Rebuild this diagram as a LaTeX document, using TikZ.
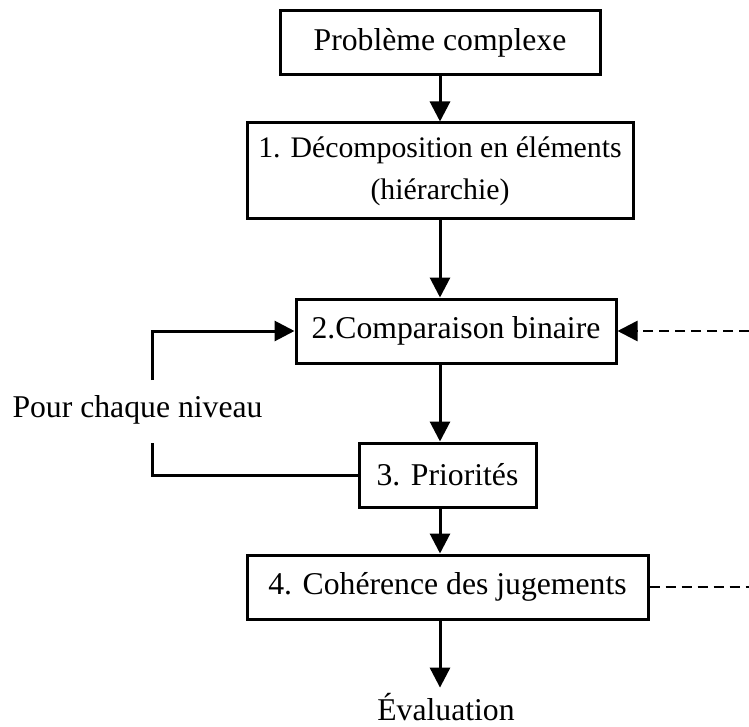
\documentclass[tikz,border=0pt]{standalone}
\usepackage{fontspec}
\setmainfont{Liberation Serif}
\usetikzlibrary{arrows.meta,positioning,calc}

\begin{document}
\begin{tikzpicture}[x=1pt, y=-1pt,
  etape/.style={draw, line width=3pt, align=center, inner sep=0pt,
    font=\fontsize{31.7pt}{36pt}\selectfont},
  fleche/.style={-{Triangle[length=20pt,width=20pt]}, line width=3pt},
  pointille/.style={line width=2.6pt, dash pattern=on 10pt off 6pt}]
  \useasboundingbox (0,0) rectangle (749,727);

  % Steps of the method
  \node[etape, minimum width=320pt, minimum height=64pt] (pb) at (440,43) {Problème complexe};
  \node[etape, minimum width=386pt, minimum height=96pt, font=\fontsize{29.8pt}{42pt}\selectfont] (deco) at (440,171) {1. Décomposition en éléments\\(hiérarchie)};
  \node[etape, minimum width=320pt, minimum height=64pt] (comp) at (456,331) {2.Comparaison binaire};
  \node[etape, minimum width=177pt, minimum height=64pt] (prio) at (447.5,475) {3. Priorités};
  \node[etape, minimum width=401pt, minimum height=64pt] (coh) at (447.5,587) {4. Cohérence des jugements};
  \node[font=\fontsize{31.7pt}{36pt}\selectfont, anchor=base, inner sep=5pt] (eval) at (446,720) {Évaluation};

  % Main flow
  \draw[fleche] (pb.south) -- (deco.north);
  \draw[fleche] (deco.south) -- (deco.south |- comp.north);
  \draw[fleche] (deco.south |- comp.south) -- (deco.south |- prio.north);
  \draw[fleche] (deco.south |- prio.south) -- (deco.south |- coh.north);
  \draw[fleche] (deco.south |- coh.south) -- (deco.south |- eval.north);

  %--- Loop for each level ---
  \node[font=\fontsize{31.7pt}{36pt}\selectfont, inner sep=0pt] (niveau) at (137.5,410) {Pour chaque niveau};
  \coordinate (bouclebas) at (152,443);
  \coordinate (bouclehaut) at (152,380);
  \draw[line width=3pt] (prio.west) -| (bouclebas);
  \draw[fleche] (bouclehaut) |- (comp.west);

  %--- Dashed links on the right ---
  \coordinate (retourA) at (749,331);
  \coordinate (retourB) at (749,587);
  \draw[pointille, -{Triangle[length=20pt,width=20pt]}] (retourA) -- (comp.east);
  \draw[pointille] (coh.east) -- (retourB);
\end{tikzpicture}
\end{document}
